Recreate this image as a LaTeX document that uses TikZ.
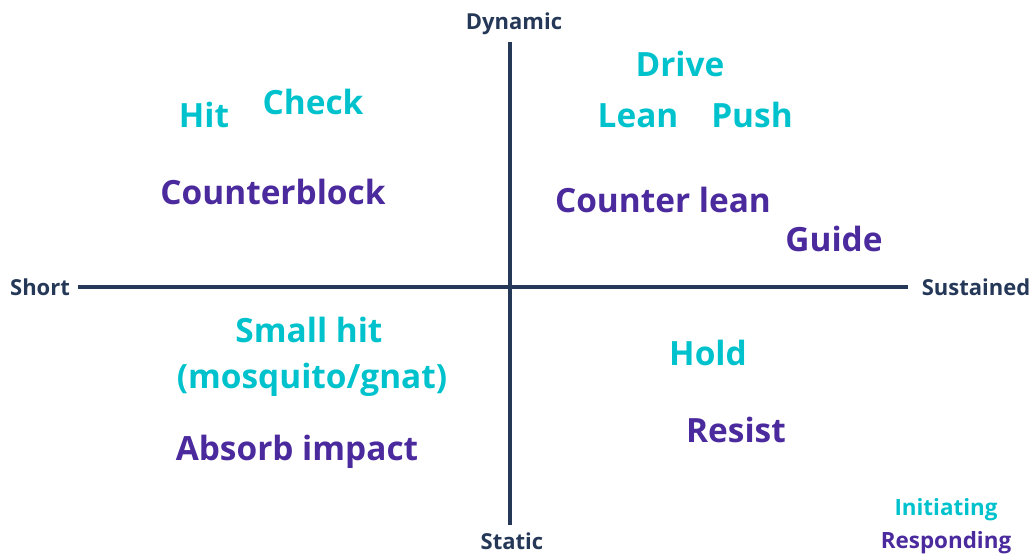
\documentclass[tikz,border=0pt]{standalone}
\usepackage{fontspec}
\setmainfont{Open Sans}[UprightFont=* Bold]
\definecolor{axis}{HTML}{253858}
\definecolor{init}{HTML}{00C2CC}
\definecolor{resp}{HTML}{4B2A9E}
\begin{document}
\begin{tikzpicture}[x=1pt,y=-1pt,
  axislabel/.style={text=axis,font=\fontsize{22}{22}\selectfont,anchor=base,inner sep=0pt},
  initlabel/.style={text=init,font=\fontsize{33.4}{33.4}\selectfont,anchor=base,inner sep=0pt},
  resplabel/.style={text=resp,font=\fontsize{33.4}{33.4}\selectfont,anchor=base,inner sep=0pt},
  legend/.style={font=\fontsize{22.4}{22.4}\selectfont,anchor=base,inner sep=0pt},
  axisline/.style={draw=axis,line width=4pt}]
\useasboundingbox (0,0) rectangle (1036,554);
% axes
\coordinate (top) at (510,42);
\coordinate (bottom) at (510,525);
\coordinate (left) at (78,287);
\coordinate (right) at (908,287);
\draw[axisline] (top) -- (bottom);
\draw[axisline] (left) -- (right);
% axis labels
\node[axislabel] (dyn) at (514,29) {Dynamic};
\node[axislabel] (sta) at (512,549) {Static};
\node[axislabel] (sho) at (40,295) {Short};
\node[axislabel] (sus) at (976,295) {Sustained};
% top-left quadrant
\node[initlabel] (hit) at (204,127) {Hit};
\node[initlabel] (check) at (313,114) {Check};
\node[resplabel] (cblock) at (273,204) {Counterblock};
% top-right quadrant
\node[initlabel] (drive) at (680,76) {Drive};
\node[initlabel] (lean) at (638,127) {Lean};
\node[initlabel] (push) at (752,127) {Push};
\node[resplabel] (clean) at (663,212) {Counter lean};
\node[resplabel] (guide) at (834,251) {Guide};
% bottom-left quadrant
\node[initlabel] (small) at (309,342) {Small hit};
\node[initlabel] (mosq) at (312,388) {(mosquito/gnat)};
\node[resplabel] (absorb) at (297,460) {Absorb impact};
% bottom-right quadrant
\node[initlabel] (hold) at (708,365) {Hold};
\node[resplabel] (resist) at (736,442) {Resist};
% legend
\node[legend,text=init] (linit) at (946,515) {Initiating};
\node[legend,text=resp] (lresp) at (946,548) {Responding};
\end{tikzpicture}
\end{document}
